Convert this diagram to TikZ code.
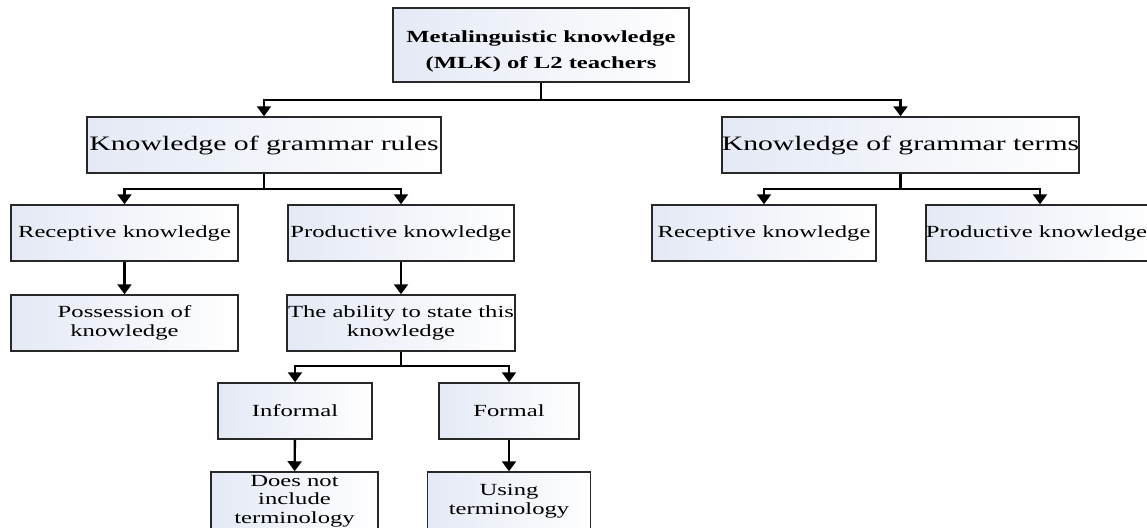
\documentclass[tikz,border=0pt]{standalone}
\usepackage{fontspec}
\setmainfont{Liberation Serif}[FakeStretch=1.45]
\usetikzlibrary{arrows.meta}
\definecolor{boxshade}{RGB}{228,233,245}
\definecolor{boxline}{RGB}{40,40,40}
\tikzset{
  x=1pt, y=-1pt,
  box/.style={draw=boxline, line width=1.5pt, left color=boxshade, right color=white,
    inner sep=0pt, align=center, font=\fontsize{17}{19.5}\selectfont},
  bigbox/.style={box, font=\fontsize{20.5}{23}\selectfont},
  topbox/.style={box, font=\bfseries\fontsize{17}{26}\selectfont},
  conn/.style={line width=2.4pt, black},
  arr/.style={conn, -{Triangle[width=14pt,length=10pt]}},
}
\begin{document}
\begin{tikzpicture}
\useasboundingbox (0,0) rectangle (1147,527);
\clip (0,0) rectangle (1147,527);
\fill[white] (0,0) rectangle (1147,527);
\node[topbox, minimum width=296, minimum height=74] (mlk) at (541,45) {\rule{0pt}{24pt}Metalinguistic knowledge\\(MLK) of L2 teachers};
\node[bigbox, minimum width=354, minimum height=56] (kgr) at (264,145) {Knowledge of grammar rules};
\node[bigbox, minimum width=355, minimum height=56] (kgt) at (900.5,145) {Knowledge of grammar terms};
\node[box, minimum width=227, minimum height=56] (rk1) at (124.5,233) {Receptive knowledge};
\node[box, minimum width=226, minimum height=56] (pk1) at (401,233) {Productive knowledge};
\node[box, minimum width=224, minimum height=56] (rk2) at (764,233) {Receptive knowledge};
\node[box, minimum width=228, minimum height=56] (pk2) at (1040,233) {\hspace*{-7pt}Productive knowledge};
\node[box, minimum width=227, minimum height=56] (pos) at (124.5,323) {Possession of\\knowledge};
\node[box, minimum width=228, minimum height=56] (abl) at (401,323) {The ability to state this\\knowledge};
\node[box, minimum width=154, minimum height=56] (inf) at (295,411) {Informal};
\node[box, minimum width=140, minimum height=56] (frm) at (509,411) {Formal};
\node[box, minimum width=167, minimum height=58, font=\fontsize{17}{18.5}\selectfont] (dni) at (294.5,501) {Does not\\include\\terminology};
\node[box, minimum width=163, minimum height=58] (ust) at (509,501) {Using\\terminology};
\coordinate (j0) at (541,100);
\coordinate (j1) at (264,189);
\coordinate (j2) at (900.5,189);
\coordinate (j3) at (401,366);
\draw[conn] (mlk.south) -- (j0);
\draw[arr] (j0) -| (kgr.north);
\draw[arr] (j0) -| (kgt.north);
\draw[conn] (kgr.south) -- (j1);
\draw[arr] (j1) -| (rk1.north);
\draw[arr] (j1) -| (pk1.north);
\draw[conn] (kgt.south) -- (j2);
\draw[arr] (j2) -| (rk2.north);
\draw[arr] (j2) -| (pk2.north);
\draw[arr] (rk1) -- (pos);
\draw[arr] (pk1) -- (abl);
\draw[conn] (abl.south) -- (j3);
\draw[arr] (j3) -| (inf.north);
\draw[arr] (j3) -| (frm.north);
\draw[arr] (inf) -- (dni);
\draw[arr] (frm) -- (ust);
\end{tikzpicture}
\end{document}
